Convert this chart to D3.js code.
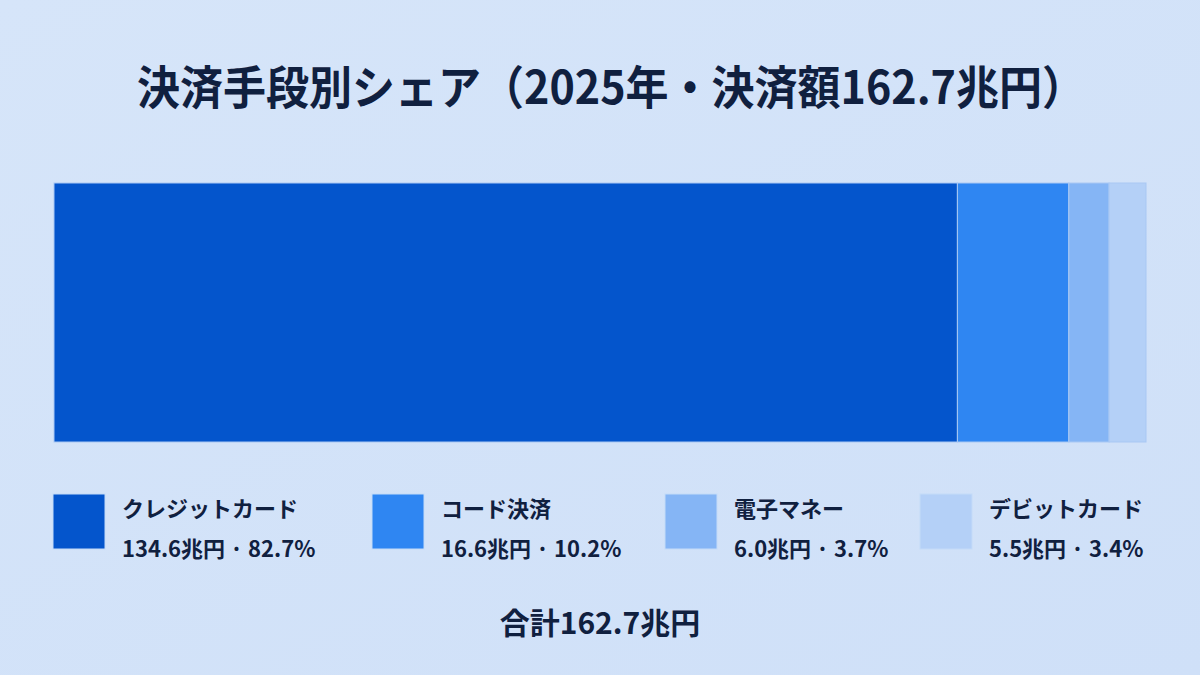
<!DOCTYPE html>
<html>
<head>
<meta charset="utf-8">
<script src="https://cdn.jsdelivr.net/npm/d3@7"></script>
<style>
  html, body { margin: 0; padding: 0; background: #d3e3f8; }
  svg { display: block; font-family: "Noto Sans CJK JP", "Noto Sans", sans-serif; }
</style>
</head>
<body>
<div id="chart"></div>
<script>
(function(){
    'use strict';

    var categories = ["クレジットカード", "コード決済", "電子マネー", "デビットカード"];
    var amounts = [134.6, 16.6, 6.0, 5.5];          // 兆円
    var shares = ["82.7%", "10.2%", "3.7%", "3.4%"];
    var colors = ["#0455cc", "#2f86f2", "#85b5f5", "#b4d0f7"];
    var total = 162.7;

    var titleText = "決済手段別シェア（2025年・決済額162.7兆円）";
    var totalText = "合計162.7兆円";

    var width = 1200, height = 675;
    var barLeft = 54, barRight = 1146, barTop = 183, barBottom = 442;
    var legendX = [53, 372, 665, 920];

    var svg = d3.select("#chart").append("svg")
        .attr("width", width)
        .attr("height", height);

    var grad = svg.append("defs").append("linearGradient")
        .attr("id", "bg").attr("x1", 0).attr("y1", 0).attr("x2", 1).attr("y2", 1);
    grad.append("stop").attr("offset", "0%").attr("stop-color", "#d6e5f9");
    grad.append("stop").attr("offset", "100%").attr("stop-color", "#cfe0f8");
    svg.append("rect").attr("width", width).attr("height", height).attr("fill", "url(#bg)");

    // title squeezed a bit to the reference's width
    svg.append("text")
        .attr("x", 137)
        .attr("y", 104)
        .attr("font-size", 46)
        .attr("font-weight", 700)
        .attr("fill", "#10203f")
        .attr("textLength", 948)
        .attr("lengthAdjust", "spacingAndGlyphs")
        .text(titleText);

    var x = d3.scaleLinear()
        .domain([0, d3.sum(amounts)])
        .range([barLeft, barRight]);

    var starts = [];
    amounts.reduce(function(a, v, i) { starts[i] = a; return a + v; }, 0);

    svg.append("g").selectAll("rect")
        .data(amounts)
        .enter()
        .append("rect")
        .attr("x", function(d, i) { return x(starts[i]); })
        .attr("y", barTop)
        .attr("width", function(d, i) { return x(starts[i] + d) - x(starts[i]); })
        .attr("height", barBottom - barTop)
        .attr("fill", function(d, i) { return colors[i]; })
        .attr("stroke", "#a9c8f3")
        .attr("stroke-width", 1);

    var legend = svg.append("g").selectAll("g")
        .data(categories)
        .enter()
        .append("g")
        .attr("transform", function(d, i) { return "translate(" + legendX[i] + ",494)"; });

    legend.append("rect")
        .attr("width", 52)
        .attr("height", 55)
        .attr("fill", function(d, i) { return colors[i]; })
        .attr("stroke", "#c4dbf8")
        .attr("stroke-width", 1);

    legend.append("text")
        .attr("x", 69)
        .attr("y", 23)
        .attr("font-size", 22)
        .attr("font-weight", 700)
        .attr("fill", "#10203f")
        .text(function(d) { return d; });

    legend.append("text")
        .attr("x", 69)
        .attr("y", 63)
        .attr("font-size", 22)
        .attr("font-weight", 700)
        .attr("fill", "#10203f")
        .text(function(d, i) { return d3.format(".1f")(amounts[i]) + "兆円 · " + shares[i]; });

    svg.append("text")
        .attr("x", 600)
        .attr("y", 634)
        .attr("text-anchor", "middle")
        .attr("font-size", 30)
        .attr("font-weight", 700)
        .attr("fill", "#10203f")
        .text(totalText);
})()
</script>
</body>
</html>
